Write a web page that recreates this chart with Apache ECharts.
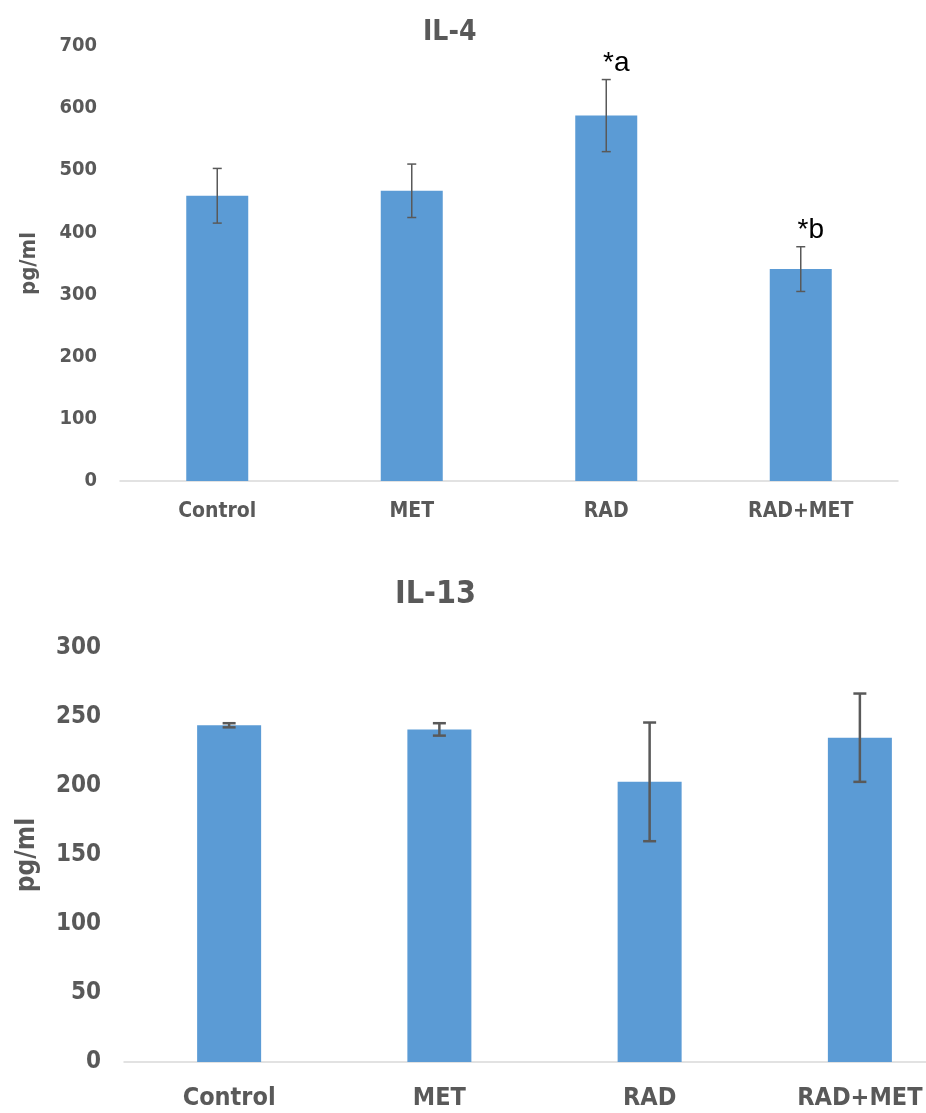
<!DOCTYPE html>
<html><head><meta charset="utf-8">
<script src="https://cdn.jsdelivr.net/npm/echarts@6/dist/echarts.min.js"></script>
<style>html,body{margin:0;padding:0;background:#fff;overflow:hidden}#c{width:926px;height:1113px}</style>
</head><body><div id="c"></div>
<script>
var categories = ['Control', 'MET', 'RAD', 'RAD+MET'];
var il4Values = [459, 467, 588, 341];
var il4Err = [44, 43, 58, 36];
var il4Notes = ['', '', '*a', '*b'];
var il4Ticks = [0, 700, 100];
var il13Values = [244, 241, 203, 235];
var il13Err = [1.5, 4.5, 43, 32];
var il13Ticks = [0, 300, 50];

var FONT = "'Liberation Sans Narrow','DejaVu Sans Condensed','Liberation Sans',sans-serif";
var GRAY = '#595959';
var BLUE = '#5B9BD5';

function errData(vals, errs) {
  return vals.map(function (v, i) { return [i, v - errs[i], v + errs[i]]; });
}
function errRender(notes, cap, lw) {
  return function (params, api) {
    var i = api.value(0);
    var lo = api.coord([i, api.value(1)]);
    var hi = api.coord([i, api.value(2)]);
    var st = { stroke: GRAY, lineWidth: lw };
    var ch = [
      { type: 'line', shape: { x1: lo[0], y1: lo[1], x2: hi[0], y2: hi[1] }, style: st },
      { type: 'line', shape: { x1: lo[0] - cap, y1: lo[1], x2: lo[0] + cap, y2: lo[1] }, style: st },
      { type: 'line', shape: { x1: hi[0] - cap, y1: hi[1], x2: hi[0] + cap, y2: hi[1] }, style: st }
    ];
    var n = notes ? notes[params.dataIndex] : '';
    if (n) {
      ch.push({ type: 'text', style: { text: n, x: hi[0] + 10, y: hi[1] - 2, textAlign: 'center', textVerticalAlign: 'bottom', fill: '#000', font: '28px ' + "'Liberation Sans','DejaVu Sans',sans-serif" } });
    }
    return { type: 'group', children: ch };
  };
}

var chart = echarts.init(document.getElementById('c'), null, { renderer: 'canvas' });
chart.setOption({
  animation: false,
  backgroundColor: '#fff',
  title: [
    { text: 'IL-4', left: 418, top: 14, textStyle: { fontFamily: FONT, fontSize: 28, fontWeight: 'bold', color: GRAY } },
    { text: 'IL-13', left: 390, top: 574, textStyle: { fontFamily: FONT, fontSize: 32, fontWeight: 'bold', color: GRAY } }
  ],
  grid: [
    { left: 120, width: 778, top: 46, height: 435, outerBoundsMode: 'none', containLabel: false },
    { left: 124, width: 841, top: 648, height: 414, outerBoundsMode: 'none', containLabel: false }
  ],
  xAxis: [
    { type: 'category', gridIndex: 0, data: categories,
      axisLine: { lineStyle: { color: '#D9D9D9', width: 1.5 } }, axisTick: { show: false },
      axisLabel: { margin: 20, color: GRAY, fontFamily: FONT, fontSize: 21, fontWeight: 'bold' } },
    { type: 'category', gridIndex: 1, data: categories,
      axisLine: { lineStyle: { color: '#D9D9D9', width: 1.5 } }, axisTick: { show: false },
      axisLabel: { margin: 24, color: GRAY, fontFamily: FONT, fontSize: 25, fontWeight: 'bold' } }
  ],
  yAxis: [
    { type: 'value', gridIndex: 0, min: il4Ticks[0], max: il4Ticks[1], interval: il4Ticks[2],
      name: 'pg/ml', nameLocation: 'middle', nameGap: 80,
      nameTextStyle: { color: GRAY, fontFamily: FONT, fontSize: 22, fontWeight: 'bold' },
      axisLine: { show: false }, axisTick: { show: false }, splitLine: { show: false },
      axisLabel: { margin: 23, color: GRAY, fontFamily: FONT, fontSize: 20, fontWeight: 'bold' } },
    { type: 'value', gridIndex: 1, min: il13Ticks[0], max: il13Ticks[1], interval: il13Ticks[2],
      name: 'pg/ml', nameLocation: 'middle', nameGap: 84,
      nameTextStyle: { color: GRAY, fontFamily: FONT, fontSize: 26, fontWeight: 'bold' },
      axisLine: { show: false }, axisTick: { show: false }, splitLine: { show: false },
      axisLabel: { margin: 23, color: GRAY, fontFamily: FONT, fontSize: 24, fontWeight: 'bold' } }
  ],
  series: [
    { type: 'bar', xAxisIndex: 0, yAxisIndex: 0, data: il4Values, barWidth: 62, itemStyle: { color: BLUE } },
    { type: 'custom', xAxisIndex: 0, yAxisIndex: 0, data: errData(il4Values, il4Err), renderItem: errRender(il4Notes, 4.5, 1.5), z: 5 },
    { type: 'bar', xAxisIndex: 1, yAxisIndex: 1, data: il13Values, barWidth: 64, itemStyle: { color: BLUE } },
    { type: 'custom', xAxisIndex: 1, yAxisIndex: 1, data: errData(il13Values, il13Err), renderItem: errRender(null, 6.5, 2.5), z: 5 }
  ]
});
</script></body></html>
